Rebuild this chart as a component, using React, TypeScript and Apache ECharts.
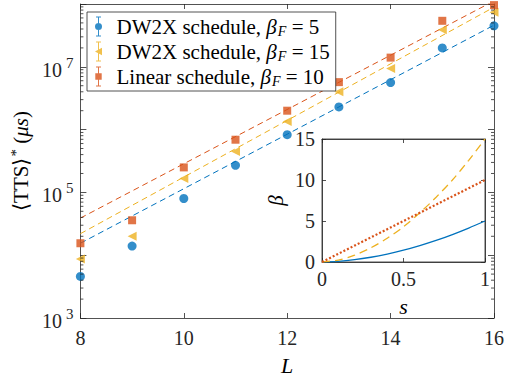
import React, { useEffect, useRef } from "react";
import * as echarts from "echarts";

const L = [8, 9, 10, 11, 12, 13, 14, 15, 16];
const tts5 = [4.6e3, 1.4e4, 8.0e4, 2.7e5, 8.3e5, 2.3e6, 5.6e6, 2.0e7, 4.5e7];
const tts15 = [8.7e3, 2.0e4, 1.67e5, 4.5e5, 1.35e6, 4.0e6, 9.4e6, 3.9e7, 7.4e7];
const ttsLin = [1.55e4, 3.6e4, 2.5e5, 6.9e5, 2.0e6, 5.7e6, 1.4e7, 5.4e7, 9.6e7];

const fitL = [8, 16];
const fit5 = [1.55e4, 4.6e7];
const fit15 = [2.2e4, 8.9e7];
const fitLin = [3.9e4, 1.12e8];

const sGrid = [0, 0.1, 0.2, 0.3, 0.4, 0.5, 0.6, 0.7, 0.8, 0.9, 1];
const beta5 = [0, 0.08, 0.28, 0.58, 0.97, 1.44, 2.0, 2.63, 3.35, 4.14, 5];
const beta15 = [0, 0.24, 0.83, 1.73, 2.9, 4.3, 6.0, 7.9, 10.0, 12.4, 15];
const sLin = [0, 1];
const betaLin = [0, 10];

const decades = [3, 4, 5, 6, 7];
const minorMult = [2, 3, 4, 5, 6, 7, 8, 9];

const NAMES = [
  "DW2X schedule, βF = 5",
  "DW2X schedule, βF = 15",
  "Linear schedule, βF = 10",
];
const LEG_RICH = [
  "{t|DW2X schedule, }{i|β}{sub|F}{t| = 5}",
  "{t|DW2X schedule, }{i|β}{sub|F}{t| = 15}",
  "{t|Linear schedule, }{i|β}{sub|F}{t| = 10}",
];

const BLUE = "#0072BD";
const YEL = "#EDB120";
const RED = "#D95319";
const AX = "#262626";
const FONT = "Liberation Serif";

const ICON_CIRCLE =
  "path://M3.5,0h1v20h-1z M1.5,0h5v1h-5z M1.5,19h5v1h-5z M0.5,10a3.5,3.5 0 1,1 7,0a3.5,3.5 0 1,1 -7,0z";
const ICON_TRI = "path://M3.5,0h1v20h-1z M1.5,0h5v1h-5z M1.5,19h5v1h-5z M0.5,10L7.5,6.2L7.5,13.8z";
const ICON_SQ = "path://M3.5,0h1v20h-1z M1.5,0h5v1h-5z M1.5,19h5v1h-5z M0.8,6.7h6.4v6.6h-6.4z";

const pair = (xs: number[], ys: number[]) => xs.map((x, i) => [x, ys[i]]);

export default function App() {
  const ref = useRef<HTMLDivElement>(null);
  useEffect(() => {
    if (!ref.current) return;
    const chart = echarts.init(ref.current, null, { renderer: "svg" });
    const minorTicks: number[] = [];
    decades.forEach((d) => minorMult.forEach((m) => minorTicks.push(m * Math.pow(10, d))));

    const tickStyle = { inside: true, length: 5, lineStyle: { color: AX, width: 0.8 } };
    const lineStyle = { show: true, onZero: false, lineStyle: { color: AX, width: 0.8 } };
    const lblBase = { fontFamily: FONT, fontSize: 20, color: AX };

    const option: any = {
      animation: false,
      backgroundColor: "#fff",
      textStyle: { fontFamily: FONT },
      grid: [
        { left: 77, right: 7, top: 4, bottom: 62, show: false },
        { left: 322, width: 163, top: 139, height: 123, show: true, backgroundColor: "#fff", borderColor: AX, borderWidth: 0.8 },
      ],
      legend: {
        left: 87,
        top: 12,
        orient: "vertical",
        backgroundColor: "#fff",
        borderColor: AX,
        borderWidth: 0.8,
        borderRadius: 0,
        padding: [4, 6, 3, 8],
        itemWidth: 20,
        itemHeight: 20,
        itemGap: 3,
        z: 10,
        data: [
          { name: NAMES[0], icon: ICON_CIRCLE },
          { name: NAMES[1], icon: ICON_TRI },
          { name: NAMES[2], icon: ICON_SQ },
        ],
        formatter: (n: string) => LEG_RICH[NAMES.indexOf(n)],
        textStyle: {
          fontFamily: FONT,
          fontSize: 21,
          color: "#000",
          padding: [0, 0, 0, 3],
          rich: {
            t: { fontFamily: FONT, fontSize: 21, color: "#000" },
            i: { fontFamily: FONT, fontSize: 21, fontStyle: "italic", color: "#000" },
            sub: { fontFamily: FONT, fontSize: 14, fontStyle: "italic", color: "#000", padding: [9, 0, 0, 1] },
          },
        },
      },
      xAxis: [
        {
          gridIndex: 0, type: "value", min: 8, max: 16, interval: 2,
          axisLine: lineStyle, axisTick: tickStyle, splitLine: { show: false },
          axisLabel: { ...lblBase, margin: 10 },
          name: "L", nameLocation: "middle", nameGap: 36,
          nameTextStyle: { fontFamily: FONT, fontSize: 22, fontStyle: "italic", color: "#000" },
        },
        {
          gridIndex: 0, type: "value", min: 8, max: 16, interval: 2, position: "top",
          axisLine: lineStyle, axisTick: tickStyle, splitLine: { show: false }, axisLabel: { show: false },
        },
        {
          gridIndex: 1, type: "value", min: 0, max: 1, interval: 0.5,
          axisLine: lineStyle, axisTick: { ...tickStyle, length: 4 }, splitLine: { show: false },
          axisLabel: { ...lblBase, margin: 7, formatter: (v: number) => String(v) },
          name: "s", nameLocation: "middle", nameGap: 33,
          nameTextStyle: { fontFamily: FONT, fontSize: 22, fontStyle: "italic", color: "#000" },
        },
        {
          gridIndex: 1, type: "value", min: 0, max: 1, interval: 0.5, position: "top",
          axisLine: lineStyle, axisTick: { ...tickStyle, length: 4 }, splitLine: { show: false }, axisLabel: { show: false },
        },
      ],
      yAxis: [
        {
          gridIndex: 0, type: "log", logBase: 10, min: 1e3, max: 1e8,
          axisLine: lineStyle, axisTick: { ...tickStyle, length: 6 }, splitLine: { show: false },
          axisLabel: {
            margin: 7,
            formatter: (v: number) => {
              const e = Math.round(Math.log10(v));
              return e % 2 === 1 ? `{b|10}{s|${e}}` : "";
            },
            rich: {
              b: { ...lblBase, padding: [6, 0, 0, 0] },
              s: { fontFamily: FONT, fontSize: 15, color: AX, padding: [0, 0, 8, 4] },
            },
          },
          name: "{a|⟨TTS⟩}{s|*}{a| (}{i|μs}{a|)}",
          nameLocation: "middle", nameGap: 47, nameRotate: 90,
          nameTextStyle: {
            rich: {
              a: { fontFamily: FONT, fontSize: 21, color: "#000" },
              s: { fontFamily: FONT, fontSize: 15, color: "#000", padding: [0, 0, 10, 1] },
              i: { fontFamily: FONT, fontSize: 21, fontStyle: "italic", color: "#000" },
            },
          },
        },
        {
          gridIndex: 0, type: "log", logBase: 10, min: 1e3, max: 1e8, position: "right",
          axisLine: lineStyle, axisTick: { ...tickStyle, length: 6 }, splitLine: { show: false }, axisLabel: { show: false },
        },
        {
          gridIndex: 1, type: "value", min: 0, max: 15, interval: 5,
          axisLine: lineStyle, axisTick: { ...tickStyle, length: 4 }, splitLine: { show: false },
          axisLabel: { ...lblBase, margin: 7 },
          name: "β", nameLocation: "middle", nameGap: 36, nameRotate: 90,
          nameTextStyle: { fontFamily: FONT, fontSize: 21, fontStyle: "italic", color: "#000" },
        },
        {
          gridIndex: 1, type: "value", min: 0, max: 15, interval: 5, position: "right",
          axisLine: lineStyle, axisTick: { ...tickStyle, length: 4 }, splitLine: { show: false }, axisLabel: { show: false },
        },
      ],
      series: [
        {
          type: "line", name: "fit5", xAxisIndex: 0, yAxisIndex: 0, data: pair(fitL, fit5),
          showSymbol: false, symbol: "none", lineStyle: { color: BLUE, width: 1, type: [6, 4] }, silent: true, clip: true,
        },
        {
          type: "line", name: "fit15", xAxisIndex: 0, yAxisIndex: 0, data: pair(fitL, fit15),
          showSymbol: false, symbol: "none", lineStyle: { color: YEL, width: 1, type: [6, 4] }, silent: true, clip: true,
        },
        {
          type: "line", name: "fitLin", xAxisIndex: 0, yAxisIndex: 0, data: pair(fitL, fitLin),
          showSymbol: false, symbol: "none", lineStyle: { color: RED, width: 1, type: [6, 4] }, silent: true, clip: true,
        },
        {
          type: "scatter", name: NAMES[0], xAxisIndex: 0, yAxisIndex: 0, data: pair(L, tts5),
          symbol: "circle", symbolSize: 9, itemStyle: { color: BLUE }, z: 4,
        },
        {
          type: "scatter", name: NAMES[1], xAxisIndex: 0, yAxisIndex: 0, data: pair(L, tts15),
          symbol: "triangle", symbolSize: 9, symbolRotate: 90, itemStyle: { color: YEL }, z: 4,
        },
        {
          type: "scatter", name: NAMES[2], xAxisIndex: 0, yAxisIndex: 0, data: pair(L, ttsLin),
          symbol: "rect", symbolSize: 8, itemStyle: { color: RED }, z: 4,
        },
        {
          type: "custom", name: "minor", xAxisIndex: 0, yAxisIndex: 0, silent: true, z: 6,
          data: minorTicks.map((v) => [8, v]),
          renderItem: (params: any, api: any) => {
            const v = api.value(1);
            const a = api.coord([8, v]);
            const b = api.coord([16, v]);
            return {
              type: "group",
              children: [
                { type: "line", shape: { x1: a[0], y1: a[1], x2: a[0] + 3, y2: a[1] }, style: { stroke: AX, lineWidth: 0.8 } },
                { type: "line", shape: { x1: b[0] - 3, y1: b[1], x2: b[0], y2: b[1] }, style: { stroke: AX, lineWidth: 0.8 } },
              ],
            };
          },
        },
        {
          type: "line", name: "b5", xAxisIndex: 2, yAxisIndex: 2, data: pair(sGrid, beta5), z: 7,
          symbol: "none", smooth: 0.3, lineStyle: { color: BLUE, width: 1.3 }, silent: true,
        },
        {
          type: "line", name: "b15", xAxisIndex: 2, yAxisIndex: 2, data: pair(sGrid, beta15), z: 7,
          symbol: "none", smooth: 0.3, lineStyle: { color: YEL, width: 1.3, type: [8, 5] }, silent: true,
        },
        {
          type: "line", name: "bLin", xAxisIndex: 2, yAxisIndex: 2, data: pair(sLin, betaLin), z: 7,
          symbol: "none", lineStyle: { color: RED, width: 2.2, type: [2, 2] }, silent: true,
        },
      ],
    };
    chart.setOption(option);
    return () => chart.dispose();
  }, []);
  return <div ref={ref} style={{ width: 507, height: 381, position: "absolute", left: 0, top: 0 }} />;
}
